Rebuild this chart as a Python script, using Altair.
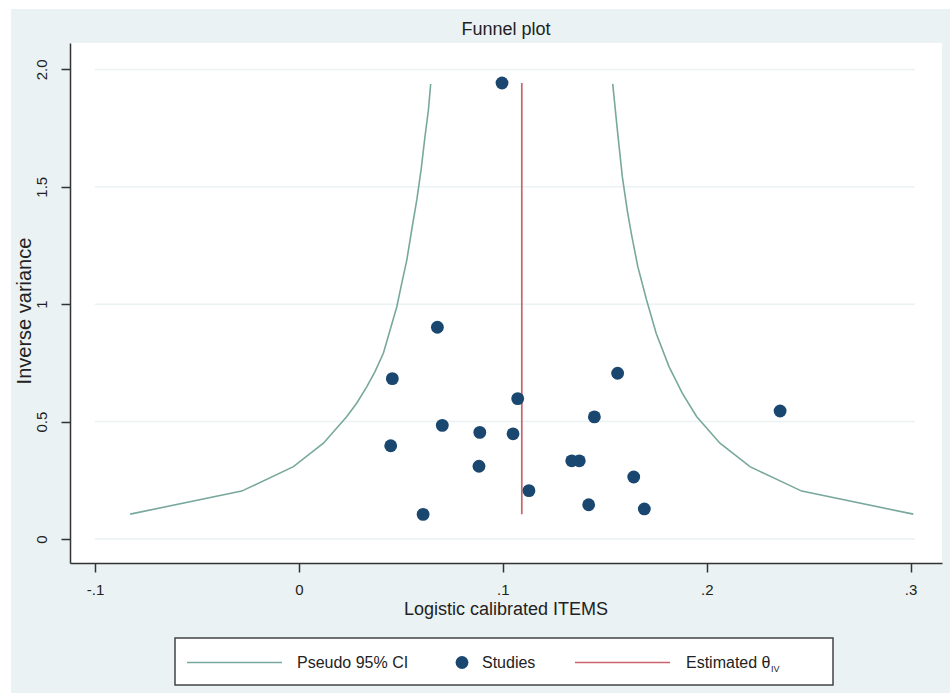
import altair as alt
import pandas as pd

# ---------------- data ----------------
study_x = [0.0996, 0.0679, 0.0458, 0.1073, 0.1563, 0.1449, 0.2360, 0.0450, 0.0703,
           0.0887, 0.1050, 0.0883, 0.1338, 0.1375, 0.1642, 0.1128, 0.1421, 0.1694, 0.0609]
study_y = [1.942, 0.902, 0.683, 0.598, 0.706, 0.520, 0.545, 0.397, 0.484,
           0.454, 0.448, 0.310, 0.333, 0.333, 0.264, 0.206, 0.146, 0.128, 0.105]

ci_left_x = [-0.0828, -0.0281, -0.0027, 0.0120, 0.0234, 0.0283, 0.0333, 0.0373, 0.0414,
             0.0447, 0.0480, 0.0504, 0.0529, 0.0553, 0.0578, 0.0599, 0.0618, 0.0635, 0.0646]
ci_left_y = [0.106, 0.204, 0.308, 0.408, 0.521, 0.578, 0.649, 0.713, 0.791,
             0.890, 0.989, 1.089, 1.188, 1.316, 1.444, 1.572, 1.713, 1.827, 1.938]
ci_right_x = [0.1539, 0.1560, 0.1586, 0.1610, 0.1630, 0.1662, 0.1705, 0.1752, 0.1815,
              0.1880, 0.1951, 0.2065, 0.2212, 0.2466, 0.3013]
ci_right_y = [1.938, 1.756, 1.543, 1.401, 1.302, 1.160, 1.018, 0.876, 0.734,
              0.621, 0.521, 0.408, 0.308, 0.204, 0.106]

theta_iv = 0.1093

x_ticks = [-0.1, 0.0, 0.1, 0.2, 0.3]
x_tick_labels = ["-.1", "0", ".1", ".2", ".3"]
y_ticks = [0.0, 0.5, 1.0, 1.5, 2.0]
y_tick_labels = ["0", "0.5", "1", "1.5", "2.0"]

legend_labels = ["Pseudo 95% CI", "Studies", "Estimated θ", "IV"]

# ---------------- styling ----------------
W, H = 872, 520
FONT = "Liberation Sans, Arial, sans-serif"
TXT = "#222222"
AX = "#333333"
BG = "#eaf2f3"
TEAL = "#78a89d"
NAVY = "#1a476f"
RED = "#c9646c"

xs = alt.Scale(domain=[-0.1123, 0.3154], nice=False, zero=False)
ys = alt.Scale(domain=[-0.1022, 2.1124], nice=False, zero=False)


def label_expr(vals, labs):
    parts = [f"abs(datum.value - ({v})) < 1e-6 ? '{l}' : " for v, l in zip(vals, labs)]
    return "".join(parts) + "''"


xaxis = alt.Axis(values=x_ticks, labelExpr=label_expr(x_ticks, x_tick_labels), title=None,
                 grid=False, tickSize=9, tickWidth=1.5, tickColor=AX, domainColor=AX,
                 domainWidth=1.5, labelFont=FONT, labelFontSize=15, labelColor=TXT,
                 labelPadding=10)
yaxis = alt.Axis(values=y_ticks, labelExpr=label_expr(y_ticks, y_tick_labels), title=None,
                 grid=False, tickSize=9, tickWidth=1.5, tickColor=AX, domainColor=AX,
                 domainWidth=1.5, labelFont=FONT, labelFontSize=15, labelColor=TXT,
                 labelAngle=270, labelPadding=12)

studies = pd.DataFrame({"x": study_x, "y": study_y})
ci = pd.DataFrame({
    "x": ci_left_x + ci_right_x,
    "y": ci_left_y + ci_right_y,
    "side": ["left"] * len(ci_left_x) + ["right"] * len(ci_right_x),
})
est = pd.DataFrame({"x": [theta_iv], "lo": [min(study_y)], "hi": [max(study_y)]})
grid = pd.DataFrame({"y": y_ticks})
one = alt.Data(values=[{"a": 1}])

# white frame strips of the exported graph
strip_top = alt.Chart(one).mark_rect(color="white").encode(
    x=alt.value(-70), x2=alt.value(W + 8), y=alt.value(-43), y2=alt.value(-34))
strip_left = alt.Chart(one).mark_rect(color="white").encode(
    x=alt.value(-70), x2=alt.value(-59), y=alt.value(-43), y2=alt.value(H + 130))

grid_l = alt.Chart(grid).mark_rule(color=BG, strokeWidth=1.5).encode(
    y=alt.Y("y:Q", scale=ys, axis=yaxis), x=alt.value(25), x2=alt.value(845))

funnel = alt.Chart(ci).mark_line(color=TEAL, strokeWidth=1.6).encode(
    x=alt.X("x:Q", scale=xs, axis=xaxis),
    y=alt.Y("y:Q", scale=ys, axis=yaxis),
    detail="side:N", order="y:Q")

est_l = alt.Chart(est).mark_rule(color=RED, strokeWidth=1.7).encode(
    x=alt.X("x:Q", scale=xs, axis=xaxis),
    y=alt.Y("lo:Q", scale=ys, axis=yaxis), y2="hi:Q")

pts = alt.Chart(studies).mark_circle(color=NAVY, opacity=1, size=165).encode(
    x=alt.X("x:Q", scale=xs, axis=xaxis),
    y=alt.Y("y:Q", scale=ys, axis=yaxis))

# titles
title_t = alt.Chart(one).mark_text(text="Funnel plot", font=FONT, fontSize=18, color=TXT,
                                   baseline="middle", align="center").encode(
    x=alt.value(W / 2), y=alt.value(-13))
xtitle_t = alt.Chart(one).mark_text(text="Logistic calibrated ITEMS", font=FONT, fontSize=18,
                                    color=TXT, baseline="middle", align="center").encode(
    x=alt.value(W / 2), y=alt.value(567))
ytitle_t = alt.Chart(one).mark_text(text="Inverse variance", font=FONT, fontSize=20, angle=270,
                                    color=TXT, baseline="middle", align="center").encode(
    x=alt.value(-45), y=alt.value(268))

# legend
LY = 619.5
leg_box = alt.Chart(one).mark_rect(fill="white", stroke="#444444", strokeWidth=1.5).encode(
    x=alt.value(105), x2=alt.value(763), y=alt.value(595), y2=alt.value(642))
leg_ci = alt.Chart(one).mark_rule(color=TEAL, strokeWidth=1.6).encode(
    x=alt.value(117), x2=alt.value(212), y=alt.value(LY))
leg_ci_t = alt.Chart(one).mark_text(text=legend_labels[0], font=FONT, fontSize=16, color=TXT,
                                    align="left", baseline="middle").encode(
    x=alt.value(227), y=alt.value(LY))
leg_pt = alt.Chart(one).mark_circle(color=NAVY, opacity=1, size=165).encode(
    x=alt.value(392), y=alt.value(LY))
leg_pt_t = alt.Chart(one).mark_text(text=legend_labels[1], font=FONT, fontSize=16, color=TXT,
                                    align="left", baseline="middle").encode(
    x=alt.value(412), y=alt.value(LY))
leg_est = alt.Chart(one).mark_rule(color=RED, strokeWidth=1.7).encode(
    x=alt.value(505), x2=alt.value(600), y=alt.value(LY))
leg_est_t = alt.Chart(one).mark_text(text=legend_labels[2], font=FONT, fontSize=16, color=TXT,
                                     align="left", baseline="middle").encode(
    x=alt.value(616), y=alt.value(LY))
leg_est_sub = alt.Chart(one).mark_text(text=legend_labels[3], font=FONT, fontSize=9, color=TXT,
                                       align="left", baseline="middle").encode(
    x=alt.value(701), y=alt.value(LY + 6))

chart = alt.layer(
    strip_top, strip_left, grid_l, funnel, est_l, pts,
    title_t, xtitle_t, ytitle_t,
    leg_box, leg_ci, leg_ci_t, leg_pt, leg_pt_t, leg_est, leg_est_t, leg_est_sub,
).properties(
    width=W, height=H,
    autosize=alt.AutoSizeParams(type="none"),
    padding={"left": 70, "top": 43, "right": 8, "bottom": 130},
).configure(background=BG).configure_view(fill="white", strokeWidth=0)

chart.save("out.html", embed_options={"renderer": "svg", "actions": False})
